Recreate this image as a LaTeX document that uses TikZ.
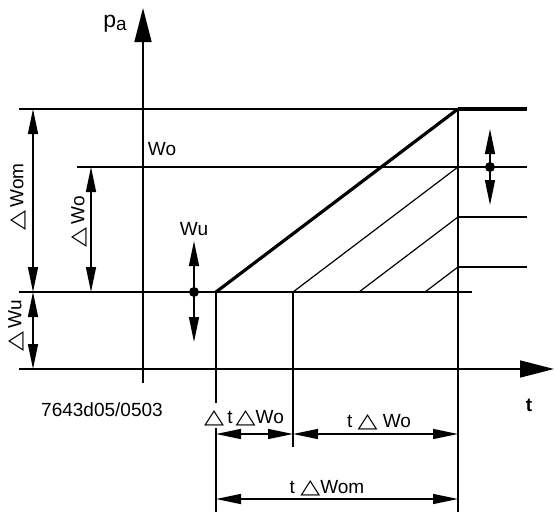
\documentclass[tikz,border=0pt]{standalone}
\usepackage{fontspec}
\setmainfont{Liberation Sans}
\newfontfamily\trifont{DejaVu Sans}
\usepackage{graphicx}
\usetikzlibrary{arrows.meta}
\definecolor{ink}{RGB}{0,0,0}
\newcommand{\tri}{\resizebox{20pt}{13pt}{\trifont △}}
\tikzset{
  thin line/.style={ink,line width=1.6pt},
  hatch/.style={ink,line width=1.2pt},
  slope/.style={ink,line width=3.2pt},
  axisarrow/.style={ink,line width=1.6pt,-{Triangle[length=34pt,width=17pt]}},
  dim/.style={ink,line width=1.4pt,{Triangle[length=25pt,width=10pt]}-{Triangle[length=25pt,width=10pt]}},
  lbl/.style={font=\fontsize{19}{19}\selectfont,text=ink,inner sep=0pt}
}
\begin{document}
\begin{tikzpicture}[x=1pt,y=-1pt]
    \useasboundingbox (0,0) rectangle (555,514);
    % axes
    \coordinate (pbot) at (143,383);
    \coordinate (ptop) at (143,8);
    \coordinate (tleft) at (19,369);
    \coordinate (tright) at (554,369);
    \draw[axisarrow] (pbot) -- (ptop);
    \draw[axisarrow] (tleft) -- (tright);
    % levels
    \coordinate (end) at (458,109);
    \coordinate (start) at (216,292);
    \draw[thin line] (19,109) -- (end);
    \draw[slope] (end) -- (527,109);
    \draw[thin line] (77,167) -- (527,167);
    \draw[thin line] (19,292) -- (472,292);
    \foreach \y in {217,267}{
      \draw[thin line] (458,\y) -- (527,\y);}
    % verticals
    \draw[thin line] (end) -- (458,512);
    \draw[thin line] (start) -- (216,403);
    \draw[thin line] (216,428) -- (216,512);
    \draw[thin line] (293,292) -- (293,447);
    % ramps
    \draw[slope] (start) -- (end);
    \foreach \x/\y in {293/167,359/217,425/267}{
      \draw[hatch] (\x,292) -- (458,\y);}
    % vertical dimensions
    \coordinate (om1) at (33,109);
    \coordinate (om2) at (33,292);
    \coordinate (o1) at (91,167);
    \coordinate (o2) at (91,292);
    \coordinate (u2) at (33,369);
    \draw[dim] (om1) -- (om2);
    \draw[dim] (o1) -- (o2);
    \draw[dim] (om2) -- (u2);
    % tolerance markers
    \coordinate (wu) at (194,292);
    \coordinate (wo) at (490,167);
    \draw[dim] (194,241) -- (194,342);
    \draw[dim] (490,129) -- (490,205);
    \fill[ink] (wu) circle[radius=5pt];
    \fill[ink] (wo) circle[radius=5pt];
    % time dimensions
    \coordinate (d1) at (216,434);
    \coordinate (d2) at (293,434);
    \coordinate (d3) at (458,434);
    \coordinate (e1) at (216,499);
    \coordinate (e2) at (458,499);
    \draw[dim] (d1) -- (d2);
    \draw[dim] (d2) -- (d3);
    \draw[dim] (e1) -- (e2);
    % labels
    \node[lbl,font=\fontsize{23}{23}\selectfont] (pa) at (115,24) {p\raisebox{-0.2ex}{\fontsize{19}{19}\selectfont a}};
    \node[lbl,rotate=90] (dwom) at (18,197) {\tri\,Wom};
    \node[lbl,rotate=90] (dwo) at (79,222) {\tri\,Wo};
    \node[lbl,rotate=90] (dwu) at (16,326) {\tri\,Wu};
    \node[lbl] (lwo) at (162,149) {Wo};
    \node[lbl] (lwu) at (194,229) {Wu};
    \node[lbl,font=\fontsize{19}{19}\selectfont\bfseries] (lt) at (529,405) {t};
    \node[lbl] (code) at (102,410) {7643d05/0503};
    \node[lbl] (ltdw) at (244,418) {\tri\,t\,\tri Wo};
    \node[lbl] (ltw) at (379,422) {t \tri\ Wo};
    \node[lbl] (ltwm) at (327,488) {t \tri Wom};
\end{tikzpicture}
\end{document}
